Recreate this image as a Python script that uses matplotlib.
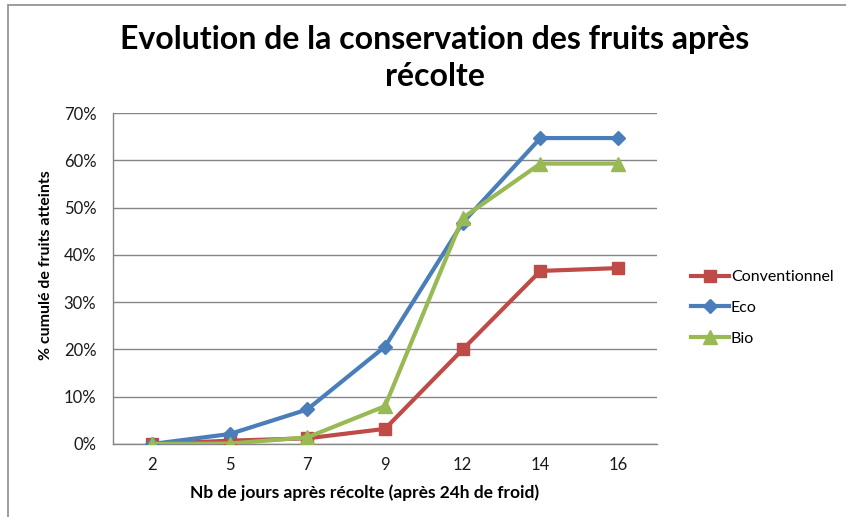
import matplotlib
matplotlib.use("Agg")
import matplotlib.pyplot as plt
from matplotlib.patches import Rectangle

days = ["2", "5", "7", "9", "12", "14", "16"]
conventionnel = [0.0, 0.7, 1.2, 3.2, 20.0, 36.6, 37.2]
eco = [0.0, 2.1, 7.3, 20.6, 46.8, 64.7, 64.7]
bio = [0.0, 0.1, 1.4, 8.0, 47.8, 59.3, 59.3]
yticks = [0, 10, 20, 30, 40, 50, 60, 70]

plt.rcParams['font.family'] = ['Lato', 'DejaVu Sans']

fig = plt.figure(figsize=(8.46, 5.17), dpi=100)
fig.patches.append(Rectangle((8/846, -0.01), 1.0, 1.0 - 5/517 + 0.01, transform=fig.transFigure,
                             fill=False, edgecolor='#8c8c8c', linewidth=1.2))
ax = fig.add_axes([113/846, 1-444/517, (657-113)/846, (444-113)/517])

x = list(range(len(days)))
ax.plot(x, conventionnel, color='#be4b48', marker='s', markersize=9, linewidth=3, label='Conventionnel', zorder=3)
ax.plot(x, eco, color='#4a7ebb', marker='D', markersize=7, linewidth=3, label='Eco', zorder=4)
ax.plot(x, bio, color='#98b954', marker='^', markersize=10, linewidth=3, label='Bio', zorder=5)

ax.set_xlim(-0.5, len(days)-0.5)
ax.set_ylim(0, 70)
ax.set_xticks(x)
ax.set_xticklabels(days)
ax.set_yticks(yticks)
ax.set_yticklabels([f"{v}%" for v in yticks])
ax.yaxis.grid(True, color='#868686', linewidth=1)
ax.set_axisbelow(True)
for s in ['top', 'right']:
    ax.spines[s].set_visible(False)
for s in ['left', 'bottom']:
    ax.spines[s].set_color('#868686')
    ax.spines[s].set_linewidth(1)
ax.tick_params(axis='both', length=0, labelsize=12, colors='#000000', pad=9)
ax.tick_params(axis='y', pad=12)
for lab in ax.get_xticklabels() + ax.get_yticklabels():
    lab.set_color('#1a1a1a')

fig.text(365/846, 1-493/517, "Nb de jours après récolte (après 24h de froid)", ha='center', va='center',
         fontsize=12.5, fontweight='bold')
fig.text(46/846, 1-265/517, "% cumulé de fruits atteints", ha='center', va='center', rotation=90,
         fontsize=11.5, fontweight='bold')

fig.text(435/846, 1-40/517, "Evolution de la conservation des fruits après", ha='center', va='center',
         fontsize=23, fontweight='bold')
fig.text(435/846, 1-76/517, "récolte", ha='center', va='center', fontsize=23, fontweight='bold')

leg = fig.legend(loc='center left', bbox_to_anchor=(683/846, 1-308/517), frameon=False,
                 fontsize=11.5, handlelength=2.4, labelspacing=1.05, handletextpad=0.1, borderpad=0)

fig.savefig("out.png", dpi=100)
